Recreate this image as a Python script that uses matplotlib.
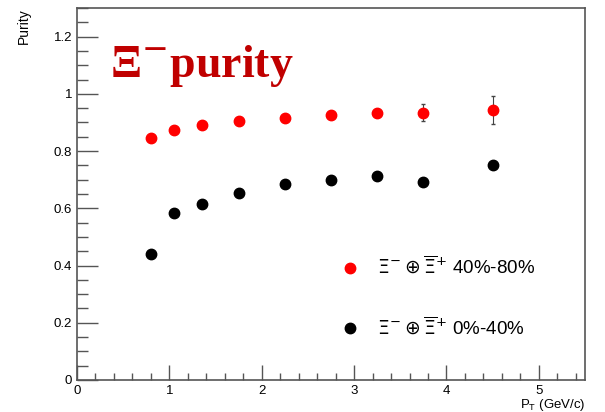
import matplotlib
matplotlib.use("Agg")
import matplotlib.pyplot as plt
from matplotlib.ticker import MultipleLocator
from matplotlib.lines import Line2D
from matplotlib.font_manager import FontProperties

pt = [0.8, 1.05, 1.35, 1.75, 2.25, 2.75, 3.25, 3.75, 4.5]
purity_peripheral = [0.846, 0.874, 0.891, 0.906, 0.916, 0.927, 0.934, 0.934, 0.944]
err_peripheral = [0.005, 0.005, 0.006, 0.007, 0.008, 0.010, 0.014, 0.030, 0.050]
purity_central = [0.440, 0.584, 0.615, 0.654, 0.685, 0.699, 0.713, 0.692, 0.752]
err_central = [0.004, 0.004, 0.005, 0.005, 0.006, 0.007, 0.008, 0.010, 0.015]
label_peripheral = r"$\Xi^{-}\oplus\overline{\Xi}^{+}$ 40%-80%"
label_central = r"$\Xi^{-}\oplus\overline{\Xi}^{+}$ 0%-40%"

plt.rcParams['font.family'] = ['Liberation Sans', 'DejaVu Sans']

fig = plt.figure(figsize=(6.05, 4.12), dpi=100)
ax = fig.add_axes([0.1273, 0.0777, 0.967 - 0.1273, 0.9806 - 0.0777])

ax.errorbar(pt, purity_peripheral, yerr=err_peripheral, fmt='o', color='#ff0000',
            ecolor='#444444', elinewidth=0.8, capsize=1.5, markersize=7.5)
ax.errorbar(pt, purity_central, yerr=err_central, fmt='o', color='black',
            ecolor='#444444', elinewidth=0.8, capsize=1.5, markersize=7.5)

ax.set_xlim(0, 5.5)
ax.set_ylim(0, 1.3)
ax.xaxis.set_major_locator(MultipleLocator(1))
ax.xaxis.set_minor_locator(MultipleLocator(0.2))
ax.yaxis.set_minor_locator(MultipleLocator(0.05))
ax.set_yticks([0, 0.2, 0.4, 0.6, 0.8, 1.0, 1.2])
ax.set_yticklabels(['0', '0.2', '0.4', '0.6', '0.8', '1', '1.2'])
ax.tick_params(which='both', direction='in', top=False, right=False,
               labelsize=9.5, color='#555555')
ax.tick_params(axis='y', which='major', length=15, width=1)
ax.tick_params(axis='y', which='minor', length=8, width=1)
ax.tick_params(axis='x', which='major', length=11, width=1)
ax.tick_params(axis='x', which='minor', length=5, width=1)
for s in ax.spines.values():
    s.set_color('#555555')
    s.set_linewidth(1.2)

ax.set_ylabel('Purity', loc='top', fontsize=10)
ax.yaxis.set_label_coords(-0.09, 1.0)
ax.set_xlabel(r'P$_{\mathregular{T}}$ (GeV/c)', loc='right', fontsize=9.5)
ax.xaxis.set_label_coords(1.0, -0.045)

ax.text(0.065, 0.845, r'Ξ$^{-}$purity', transform=ax.transAxes,
        fontsize=33, fontweight='bold', family=['Liberation Serif', 'DejaVu Serif'],
        color='#c00000', va='center', ha='left')

handles = [Line2D([], [], marker='o', linestyle='none', color='#ff0000', markersize=7.5),
           Line2D([], [], marker='o', linestyle='none', color='black', markersize=7.5)]
prop = FontProperties(family=['Liberation Sans', 'DejaVu Sans'], size=13.5,
                      math_fontfamily='dejavusans')
leg = ax.legend(handles, [label_peripheral, label_central],
                loc='center left', bbox_to_anchor=(0.485, 0.222), frameon=False,
                prop=prop, labelspacing=2.05, handletextpad=0.95,
                handlelength=1.0)

fig.savefig('out.png', dpi=100)
